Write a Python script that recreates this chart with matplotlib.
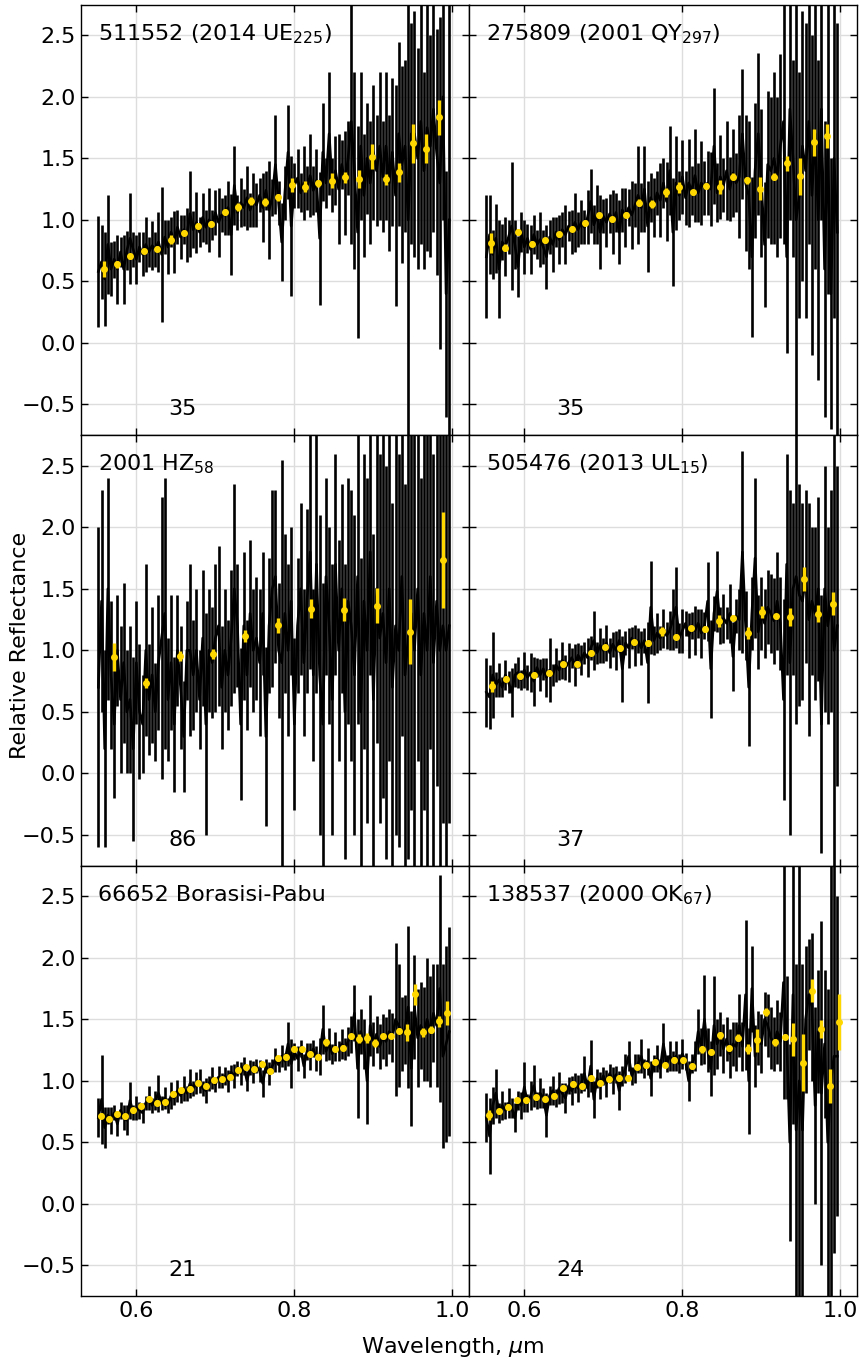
import matplotlib.pyplot as plt

# wavelength grid of the reduced spectra (um)
wave = [0.552, 0.556, 0.560, 0.564, 0.568, 0.572, 0.576, 0.580, 0.584, 0.588,
        0.592, 0.596, 0.600, 0.604, 0.608, 0.612, 0.616, 0.620, 0.624, 0.628,
        0.632, 0.636, 0.640, 0.644, 0.648, 0.652, 0.656, 0.660, 0.664, 0.668,
        0.672, 0.676, 0.680, 0.684, 0.688, 0.692, 0.696, 0.700, 0.704, 0.708,
        0.712, 0.716, 0.720, 0.724, 0.728, 0.732, 0.736, 0.740, 0.744, 0.748,
        0.752, 0.756, 0.760, 0.764, 0.768, 0.772, 0.776, 0.780, 0.784, 0.788,
        0.792, 0.796, 0.800, 0.804, 0.808, 0.812, 0.816, 0.820, 0.824, 0.828,
        0.832, 0.836, 0.840, 0.844, 0.848, 0.852, 0.856, 0.860, 0.864, 0.868,
        0.872, 0.876, 0.880, 0.884, 0.888, 0.892, 0.896, 0.900, 0.904, 0.908,
        0.912, 0.916, 0.920, 0.924, 0.928, 0.932, 0.936, 0.940, 0.944, 0.948,
        0.952, 0.956, 0.960, 0.964, 0.968, 0.972, 0.976, 0.980, 0.984, 0.988,
        0.992, 0.996]

names = ['511552 (2014 UE$_{225}$)', '275809 (2001 QY$_{297}$)',
         '2001 HZ$_{58}$', '505476 (2013 UL$_{15}$)',
         '66652 Borasisi-Pabu', '138537 (2000 OK$_{67}$)']
bin_labels = ['35', '35', '86', '37', '21', '24']

# --- 511552 ---
flux_1 = [0.58, 0.66, 0.52, 0.80, 0.60, 0.68, 0.60, 0.74, 0.60, 0.75,
          0.85, 0.76, 0.68, 0.78, 0.72, 0.80, 0.74, 0.79, 0.76, 0.82,
          0.72, 0.86, 0.78, 0.90, 0.82, 0.94, 0.86, 0.92, 0.88, 1.05,
          0.92, 0.98, 0.90, 1.02, 0.94, 1.00, 0.96, 1.06, 0.98, 1.04,
          1.04, 1.10, 0.88, 1.28, 1.06, 1.14, 1.10, 1.18, 1.08, 1.16,
          1.12, 1.20, 1.10, 1.24, 1.08, 1.18, 1.45, 1.14, 0.82, 1.22,
          1.55, 0.95, 1.28, 1.34, 1.22, 1.30, 1.26, 1.36, 1.24, 1.32,
          0.85, 1.55, 1.30, 1.70, 1.28, 1.40, 1.25, 1.45, 1.30, 1.50,
          1.80, 1.40, 0.90, 1.60, 1.20, 1.50, 1.30, 1.55, 1.40, 1.60,
          1.35, 1.60, 1.30, 1.55, 1.20, 1.70, 1.45, 1.60, 1.00, 1.70,
          1.70, 1.50, 1.80, 1.40, 1.75, 1.60, 1.90, 1.55, 1.30, 2.00,
          0.40, 1.00]
err_1 = [0.45, 0.30, 0.38, 0.40, 0.22, 0.15, 0.28, 0.12, 0.28, 0.16,
         0.37, 0.14, 0.20, 0.12, 0.18, 0.22, 0.12, 0.20, 0.14, 0.24,
         0.55, 0.14, 0.22, 0.12, 0.25, 0.14, 0.18, 0.12, 0.22, 0.35,
         0.15, 0.25, 0.12, 0.20, 0.14, 0.26, 0.12, 0.18, 0.28, 0.14,
         0.16, 0.22, 0.33, 0.32, 0.14, 0.20, 0.15, 0.26, 0.14, 0.22,
         0.18, 0.14, 0.28, 0.16, 0.40, 0.15, 0.40, 0.18, 0.32, 0.22,
         0.38, 0.57, 0.18, 0.24, 0.16, 0.30, 0.18, 0.34, 0.20, 0.26,
         0.54, 0.40, 0.20, 0.50, 0.22, 0.28, 0.45, 0.20, 0.42, 0.30,
         1.00, 0.80, 0.86, 0.60, 0.50, 0.45, 0.50, 0.55, 0.45, 0.60,
         0.45, 0.60, 0.55, 0.60, 0.90, 0.75, 0.80, 0.70, 1.80, 0.90,
         1.00, 0.90, 1.00, 0.80, 1.00, 0.90, 1.00, 1.00, 1.35, 1.00,
         1.00, 1.80]
bin_wave_1 = [0.5587, 0.5756, 0.5924, 0.6097, 0.6265, 0.6434, 0.6602, 0.6775, 0.6943,
              0.7116, 0.7284, 0.7453, 0.7625, 0.7794, 0.7966, 0.8135, 0.8303, 0.8472,
              0.8644, 0.8813, 0.8981, 0.9154, 0.9322, 0.9495, 0.9663, 0.9832]
bin_flux_1 = [0.603, 0.639, 0.704, 0.747, 0.766, 0.840, 0.894, 0.954, 0.970,
              1.062, 1.106, 1.155, 1.144, 1.182, 1.283, 1.269, 1.296, 1.318,
              1.345, 1.332, 1.514, 1.329, 1.386, 1.622, 1.579, 1.834]
bin_err_1 = [0.065, 0.028, 0.02, 0.02, 0.02, 0.04, 0.02, 0.02, 0.02,
             0.025, 0.03, 0.03, 0.035, 0.03, 0.054, 0.045, 0.03, 0.06,
             0.045, 0.07, 0.10, 0.045, 0.075, 0.16, 0.117, 0.14]

# --- 275809 ---
flux_2 = [0.70, 0.88, 0.72, 0.85, 0.60, 0.82, 0.78, 0.86, 0.95, 0.80,
          0.62, 0.90, 0.78, 0.85, 0.76, 0.88, 0.80, 0.84, 0.78, 0.70,
          0.86, 0.80, 0.90, 0.84, 0.92, 0.88, 0.95, 0.90, 0.98, 0.92,
          0.98, 0.94, 1.02, 1.15, 0.96, 1.04, 0.90, 1.03, 0.98, 1.05,
          0.98, 1.06, 0.90, 1.08, 1.02, 1.10, 1.04, 1.12, 1.20, 1.10,
          1.25, 0.95, 1.18, 1.10, 1.22, 1.16, 1.30, 1.15, 1.40, 0.90,
          1.30, 1.20, 1.35, 1.18, 1.30, 1.24, 1.36, 1.22, 1.30, 1.26,
          1.30, 1.25, 1.60, 1.22, 1.35, 1.28, 1.40, 1.25, 1.38, 1.30,
          1.35, 1.70, 1.30, 1.20, 0.70, 1.40, 1.70, 1.30, 0.80, 1.45,
          1.40, 1.50, 1.35, 1.60, 1.80, 0.70, 1.90, 1.50, 1.00, 1.20,
          1.60, 1.40, 1.80, 1.20, 1.70, 1.00, 1.90, 0.60, 1.60, 0.40,
          1.50, 0.90]
err_2 = [0.50, 0.32, 0.20, 0.28, 0.40, 0.15, 0.24, 0.14, 0.52, 0.20,
         0.25, 0.16, 0.22, 0.12, 0.20, 0.16, 0.12, 0.22, 0.14, 0.26,
         0.14, 0.22, 0.12, 0.20, 0.14, 0.24, 0.12, 0.18, 0.24, 0.14,
         0.18, 0.14, 0.22, 0.26, 0.16, 0.24, 0.30, 0.14, 0.20, 0.16,
         0.26, 0.16, 0.26, 0.18, 0.24, 0.15, 0.28, 0.18, 0.40, 0.20,
         0.35, 0.37, 0.20, 0.24, 0.18, 0.30, 0.20, 0.32, 0.36, 0.44,
         0.38, 0.20, 0.30, 0.22, 0.36, 0.20, 0.38, 0.24, 0.34, 0.22,
         0.26, 0.30, 0.47, 0.24, 0.34, 0.22, 0.40, 0.26, 0.36, 0.24,
         0.50, 0.53, 0.55, 0.60, 0.65, 0.55, 0.66, 0.60, 0.51, 0.60,
         0.60, 0.70, 0.65, 0.75, 1.00, 0.78, 0.90, 0.80, 1.80, 1.00,
         1.10, 1.20, 1.00, 1.30, 1.10, 1.30, 0.90, 1.20, 1.20, 1.10,
         1.30, 1.70]
bin_wave_2 = [0.5579, 0.5752, 0.5920, 0.6093, 0.6261, 0.6434, 0.6602, 0.6771, 0.6943,
              0.7112, 0.7284, 0.7453, 0.7621, 0.7794, 0.7962, 0.8135, 0.8303, 0.8472,
              0.8644, 0.8813, 0.8985, 0.9154, 0.9322, 0.9495, 0.9663, 0.9832]
bin_flux_2 = [0.813, 0.774, 0.902, 0.807, 0.834, 0.883, 0.927, 0.978, 1.038,
              1.005, 1.043, 1.139, 1.128, 1.223, 1.264, 1.226, 1.277, 1.269,
              1.351, 1.321, 1.255, 1.351, 1.459, 1.356, 1.630, 1.682]
bin_err_2 = [0.079, 0.03, 0.02, 0.02, 0.02, 0.02, 0.02, 0.02, 0.02,
             0.02, 0.02, 0.03, 0.03, 0.035, 0.048, 0.02, 0.025, 0.055,
             0.03, 0.03, 0.092, 0.03, 0.06, 0.15, 0.109, 0.10]

# --- 2001 HZ58 ---
flux_3 = [0.70, 1.40, 0.20, 1.50, 0.80, 0.40, 1.00, 0.60, 0.90, 0.50,
          0.60, 0.20, 0.90, 0.50, 0.40, 1.00, 0.60, 0.80, 0.50, 0.90,
          1.10, 1.30, 0.60, 0.90, 0.40, 1.00, 0.70, 0.30, 1.00, 1.00,
          0.80, 1.00, 0.60, 1.10, 0.40, 1.00, 0.90, 1.10, 1.20, 0.70,
          1.00, 0.80, 1.10, 1.50, 1.20, 0.40, 1.20, 0.80, 1.30, 1.00,
          1.10, 0.90, 1.30, 0.30, 1.20, 1.50, 1.60, 1.00, 0.90, 1.30,
          1.00, 1.40, 0.40, 1.20, 1.50, 0.90, 1.40, 1.80, 0.80, 1.70,
          0.80, 0.40, 1.60, 1.20, 0.60, 1.70, 1.00, 1.50, 0.50, 1.40,
          1.20, 0.80, 1.60, 0.50, 1.40, 1.00, 1.80, 0.60, 1.50, 1.10,
          1.30, 0.90, 1.50, 0.70, 1.20, 1.00, 1.60, 0.80, 1.10, 1.30,
          1.00, 1.50, 0.80, 1.30, 1.00, 1.60, 0.90, 1.40, 1.00, 1.20,
          1.00, 1.20]
err_3 = [1.30, 0.90, 0.80, 0.90, 0.60, 0.60, 0.45, 0.60, 0.65, 0.50,
         0.60, 0.75, 0.50, 0.55, 0.40, 0.70, 0.45, 0.55, 0.40, 0.55,
         1.15, 1.10, 0.50, 0.55, 0.55, 0.45, 0.50, 0.45, 0.40, 0.70,
         0.45, 0.50, 0.40, 0.55, 0.90, 0.50, 0.45, 0.60, 0.65, 0.50,
         0.50, 0.45, 0.55, 0.85, 0.50, 0.62, 0.60, 0.45, 0.60, 0.50,
         0.50, 0.60, 0.50, 0.73, 0.55, 0.80, 0.70, 0.55, 1.65, 0.65,
         0.70, 0.60, 0.70, 0.55, 0.70, 0.60, 0.75, 0.95, 0.70, 1.05,
         1.30, 1.15, 0.80, 0.80, 1.10, 0.90, 0.90, 0.85, 1.20, 1.00,
         1.10, 1.30, 1.20, 1.25, 1.20, 1.40, 1.00, 1.35, 1.25, 1.50,
         1.50, 1.60, 1.40, 1.50, 1.70, 1.60, 1.30, 1.55, 1.80, 1.60,
         1.80, 1.40, 1.60, 1.60, 1.80, 1.40, 1.70, 1.50, 1.80, 1.60,
         1.80, 1.60]
bin_wave_3 = [0.5714, 0.6126, 0.6547, 0.6964, 0.7381, 0.7798, 0.8215, 0.8632,
              0.9048, 0.9469, 0.9886]
bin_flux_3 = [0.946, 0.736, 0.954, 0.967, 1.117, 1.204, 1.340, 1.332,
              1.364, 1.152, 1.734]
bin_err_3 = [0.115, 0.04, 0.04, 0.04, 0.05, 0.06, 0.075, 0.095,
             0.145, 0.265, 0.39]

# --- 505476 ---
flux_4 = [0.66, 0.62, 0.80, 0.72, 0.76, 0.70, 0.80, 0.74, 0.66, 0.80,
          0.82, 0.76, 0.84, 0.78, 0.82, 0.75, 0.86, 0.80, 0.85, 0.78,
          0.84, 0.80, 0.88, 0.84, 0.92, 0.86, 0.90, 0.94, 0.88, 0.96,
          0.92, 0.98, 0.94, 1.02, 1.08, 0.98, 1.04, 1.00, 1.06, 0.98,
          1.05, 1.00, 1.08, 0.85, 1.06, 1.02, 1.10, 1.04, 1.08, 1.02,
          1.08, 0.90, 1.35, 1.08, 1.14, 1.10, 1.18, 1.12, 1.16, 1.25,
          1.35, 1.10, 1.16, 1.22, 1.12, 1.20, 1.16, 1.22, 1.14, 1.20,
          1.40, 0.85, 1.30, 1.48, 1.20, 1.26, 1.22, 1.30, 0.95, 1.28,
          1.25, 1.80, 1.20, 0.70, 1.30, 1.75, 1.15, 1.30, 1.22, 1.35,
          1.30, 1.24, 1.40, 1.22, 0.60, 1.70, 0.90, 1.50, 1.60, 1.45,
          1.40, 1.60, 1.25, 1.40, 1.30, 1.50, 0.40, 1.50, 1.20, 1.40,
          1.00, 1.20]
err_4 = [0.28, 0.26, 0.35, 0.10, 0.14, 0.08, 0.12, 0.09, 0.20, 0.10,
         0.13, 0.08, 0.15, 0.10, 0.16, 0.20, 0.08, 0.13, 0.09, 0.16,
         0.26, 0.09, 0.14, 0.08, 0.15, 0.10, 0.16, 0.08, 0.17, 0.10,
         0.12, 0.09, 0.16, 0.10, 0.24, 0.09, 0.14, 0.10, 0.15, 0.12,
         0.10, 0.16, 0.09, 0.27, 0.10, 0.16, 0.09, 0.17, 0.10, 0.14,
         0.10, 0.33, 0.38, 0.12, 0.16, 0.10, 0.16, 0.11, 0.16, 0.25,
         0.33, 0.12, 0.18, 0.10, 0.18, 0.11, 0.20, 0.12, 0.20, 0.11,
         0.32, 0.40, 0.14, 0.33, 0.15, 0.20, 0.13, 0.24, 0.28, 0.14,
         0.25, 0.82, 0.28, 0.48, 0.30, 0.65, 0.30, 0.30, 0.28, 0.30,
         0.32, 0.35, 0.40, 0.38, 0.82, 0.90, 1.40, 0.70, 1.20, 0.90,
         0.80, 0.70, 0.95, 0.60, 0.70, 0.75, 1.05, 1.00, 0.80, 0.90,
         1.75, 1.30]
bin_wave_4 = [0.5587, 0.5768, 0.5949, 0.6126, 0.6307, 0.6488, 0.6665, 0.6846, 0.7027,
              0.7208, 0.7385, 0.7566, 0.7747, 0.7924, 0.8105, 0.8286, 0.8463, 0.8644,
              0.8825, 0.9002, 0.9183, 0.9360, 0.9541, 0.9722, 0.9903]
bin_flux_4 = [0.707, 0.769, 0.788, 0.802, 0.818, 0.886, 0.891, 0.981, 1.027,
              1.016, 1.065, 1.057, 1.155, 1.111, 1.182, 1.171, 1.239, 1.266,
              1.141, 1.310, 1.277, 1.272, 1.579, 1.299, 1.380]
bin_err_4 = [0.045, 0.02, 0.02, 0.02, 0.02, 0.02, 0.02, 0.02, 0.02,
             0.02, 0.02, 0.02, 0.035, 0.02, 0.02, 0.025, 0.048, 0.02,
             0.045, 0.05, 0.02, 0.07, 0.095, 0.07, 0.092]

# --- 66652 ---
flux_5 = [0.70, 0.85, 0.62, 0.72, 0.68, 0.74, 0.65, 0.76, 0.70, 0.68,
          0.84, 0.74, 0.78, 0.76, 0.74, 0.82, 0.86, 0.80, 0.84, 0.90,
          0.82, 0.86, 0.80, 0.88, 0.86, 0.92, 0.88, 0.94, 0.90, 0.98,
          0.94, 0.98, 1.00, 0.94, 0.92, 0.98, 1.02, 0.97, 1.03, 1.00,
          1.04, 1.00, 1.07, 1.04, 1.10, 1.06, 1.12, 1.00, 1.11, 1.07,
          1.12, 1.08, 0.98, 1.12, 1.06, 1.12, 1.17, 1.13, 1.20, 1.16,
          1.30, 1.14, 1.24, 1.18, 1.26, 1.12, 1.24, 1.20, 1.26, 1.18,
          1.20, 1.42, 1.24, 1.30, 1.22, 1.28, 1.24, 1.30, 1.26, 1.32,
          1.38, 1.55, 1.10, 1.40, 1.30, 1.00, 1.45, 1.30, 1.38, 1.28,
          1.36, 1.32, 1.40, 1.35, 1.50, 1.45, 1.38, 1.42, 1.60, 1.10,
          1.60, 1.35, 1.45, 1.38, 1.50, 1.40, 1.55, 1.45, 1.75, 1.20,
          1.30, 1.40]
err_5 = [0.16, 0.36, 0.17, 0.07, 0.11, 0.06, 0.10, 0.07, 0.10, 0.12,
         0.15, 0.06, 0.10, 0.07, 0.08, 0.06, 0.10, 0.06, 0.08, 0.15,
         0.06, 0.09, 0.06, 0.11, 0.06, 0.09, 0.06, 0.10, 0.06, 0.12,
         0.06, 0.09, 0.10, 0.06, 0.10, 0.06, 0.09, 0.06, 0.09, 0.06,
         0.07, 0.09, 0.06, 0.10, 0.06, 0.09, 0.07, 0.08, 0.06, 0.09,
         0.06, 0.09, 0.11, 0.06, 0.09, 0.06, 0.10, 0.06, 0.09, 0.07,
         0.18, 0.20, 0.07, 0.10, 0.07, 0.10, 0.07, 0.11, 0.07, 0.10,
         0.15, 0.20, 0.08, 0.13, 0.08, 0.12, 0.08, 0.12, 0.09, 0.12,
         0.15, 0.23, 0.40, 0.18, 0.20, 0.35, 0.25, 0.18, 0.15, 0.18,
         0.18, 0.20, 0.18, 0.20, 0.62, 0.50, 0.30, 0.28, 0.66, 0.47,
         0.42, 0.40, 0.35, 0.38, 0.50, 0.45, 0.40, 0.50, 0.92, 0.75,
         0.80, 0.85]
bin_wave_5 = [0.5554, 0.5655, 0.5756, 0.5857, 0.5958, 0.6063, 0.6164, 0.6265, 0.6366,
              0.6467, 0.6568, 0.6674, 0.6775, 0.6876, 0.6977, 0.7082, 0.7183, 0.7284,
              0.7385, 0.7486, 0.7592, 0.7693, 0.7794, 0.7895, 0.7996, 0.8101, 0.8202,
              0.8303, 0.8404, 0.8509, 0.8611, 0.8712, 0.8813, 0.8914, 0.9019, 0.9120,
              0.9221, 0.9322, 0.9427, 0.9528, 0.9629, 0.9730, 0.9832, 0.9937]
bin_flux_5 = [0.715, 0.691, 0.734, 0.713, 0.762, 0.797, 0.854, 0.821, 0.824,
              0.894, 0.924, 0.935, 0.986, 0.959, 1.003, 1.011, 1.033, 1.089,
              1.111, 1.095, 1.133, 1.079, 1.184, 1.195, 1.260, 1.255, 1.220,
              1.195, 1.314, 1.260, 1.268, 1.363, 1.344, 1.350, 1.309, 1.363,
              1.366, 1.407, 1.393, 1.702, 1.393, 1.417, 1.485, 1.553]
bin_err_5 = [0.02, 0.02, 0.02, 0.02, 0.02, 0.02, 0.02, 0.02, 0.02,
             0.02, 0.02, 0.02, 0.02, 0.02, 0.02, 0.02, 0.02, 0.02,
             0.02, 0.02, 0.02, 0.02, 0.02, 0.02, 0.02, 0.02, 0.02,
             0.02, 0.03, 0.02, 0.02, 0.02, 0.04, 0.04, 0.03, 0.02,
             0.02, 0.02, 0.07, 0.085, 0.04, 0.03, 0.045, 0.10]

# --- 138537 ---
flux_6 = [0.70, 0.55, 0.80, 0.90, 0.74, 0.80, 0.76, 0.82, 0.78, 0.70,
          0.84, 0.80, 0.95, 0.82, 0.88, 0.96, 0.84, 0.90, 0.86, 0.72,
          0.88, 0.92, 0.86, 0.94, 0.90, 0.86, 0.96, 0.92, 0.98, 0.94,
          0.98, 1.06, 0.94, 1.12, 0.85, 1.02, 0.96, 1.04, 0.98, 1.06,
          1.00, 1.05, 0.92, 1.04, 1.10, 1.20, 1.04, 1.10, 1.14, 1.20,
          1.10, 1.16, 1.02, 1.14, 1.18, 1.10, 1.30, 1.14, 1.20, 1.16,
          1.20, 1.14, 1.22, 1.16, 1.00, 1.14, 1.20, 1.40, 1.28, 1.50,
          1.25, 1.10, 1.45, 1.30, 1.38, 1.26, 1.34, 1.22, 1.30, 1.28,
          1.45, 1.28, 1.70, 1.00, 1.75, 1.20, 1.35, 1.30, 1.50, 1.45,
          1.35, 1.30, 1.40, 1.32, 1.80, 1.35, 0.50, 1.70, 0.60, 1.00,
          0.60, 1.50, 1.70, 1.60, 0.80, 1.40, 0.90, 1.30, 0.50, 1.00,
          1.20, 1.20]
err_6 = [0.20, 0.31, 0.15, 0.20, 0.08, 0.12, 0.07, 0.12, 0.08, 0.12,
         0.08, 0.11, 0.20, 0.07, 0.12, 0.17, 0.07, 0.12, 0.08, 0.18,
         0.08, 0.12, 0.07, 0.13, 0.08, 0.12, 0.07, 0.12, 0.08, 0.11,
         0.08, 0.14, 0.07, 0.21, 0.15, 0.08, 0.11, 0.07, 0.11, 0.08,
         0.11, 0.07, 0.16, 0.08, 0.12, 0.12, 0.07, 0.12, 0.08, 0.14,
         0.08, 0.11, 0.14, 0.07, 0.11, 0.08, 0.17, 0.07, 0.12, 0.08,
         0.12, 0.08, 0.12, 0.07, 0.16, 0.08, 0.12, 0.18, 0.15, 0.36,
         0.18, 0.22, 0.40, 0.20, 0.18, 0.20, 0.18, 0.20, 0.18, 0.20,
         0.26, 0.20, 0.61, 0.43, 0.35, 0.25, 0.22, 0.24, 0.22, 0.26,
         0.25, 0.22, 0.26, 0.24, 0.95, 0.50, 0.80, 1.05, 1.35, 1.75,
         1.35, 0.60, 0.45, 0.60, 0.80, 0.50, 1.40, 0.60, 1.25, 1.75,
         1.60, 1.30]
bin_wave_6 = [0.5558, 0.5676, 0.5794, 0.5912, 0.6025, 0.6143, 0.6261, 0.6379, 0.6493,
              0.6611, 0.6728, 0.6842, 0.6960, 0.7078, 0.7192, 0.7309, 0.7427, 0.7541,
              0.7659, 0.7777, 0.7891, 0.8008, 0.8126, 0.8244, 0.8358, 0.8476, 0.8594,
              0.8707, 0.8825, 0.8943, 0.9057, 0.9175, 0.9293, 0.9406, 0.9524, 0.9642,
              0.9756, 0.9874, 0.9987]
bin_flux_6 = [0.721, 0.753, 0.789, 0.843, 0.843, 0.867, 0.856, 0.878, 0.943,
              0.978, 0.954, 1.019, 0.984, 1.011, 1.027, 1.024, 1.114, 1.125,
              1.154, 1.130, 1.173, 1.168, 1.119, 1.255, 1.236, 1.371, 1.266,
              1.352, 1.257, 1.328, 1.561, 1.314, 1.358, 1.339, 1.149, 1.734,
              1.423, 0.957, 1.480]
bin_err_6 = [0.04, 0.02, 0.02, 0.02, 0.02, 0.02, 0.02, 0.02, 0.02,
             0.02, 0.02, 0.02, 0.02, 0.02, 0.02, 0.02, 0.02, 0.02,
             0.02, 0.02, 0.02, 0.02, 0.02, 0.03, 0.02, 0.03, 0.02,
             0.03, 0.04, 0.09, 0.03, 0.03, 0.02, 0.135, 0.235, 0.09,
             0.075, 0.14, 0.23]

spectra = [(flux_1, err_1, bin_wave_1, bin_flux_1, bin_err_1),
           (flux_2, err_2, bin_wave_2, bin_flux_2, bin_err_2),
           (flux_3, err_3, bin_wave_3, bin_flux_3, bin_err_3),
           (flux_4, err_4, bin_wave_4, bin_flux_4, bin_err_4),
           (flux_5, err_5, bin_wave_5, bin_flux_5, bin_err_5),
           (flux_6, err_6, bin_wave_6, bin_flux_6, bin_err_6)]

fs = 16

fig, axes = plt.subplots(3, 2, sharex=True, sharey=True, figsize=(8.6, 13.65), dpi=100)
fig.subplots_adjust(left=0.0942, right=0.9965, top=0.9966, bottom=0.0505,
                    wspace=0, hspace=0)

for ax, name, lab, (fl, er, bw, bf, be) in zip(axes.flat, names, bin_labels, spectra):
    ax.errorbar(wave, fl, yerr=er, color='k', lw=1.9, elinewidth=1.9, zorder=2)
    ax.errorbar(bw, bf, yerr=be, fmt='o', color='gold', ms=4, elinewidth=2.4,
                capsize=0, zorder=3)
    ax.text(0.551, 2.46, name, fontsize=fs, ha='left', va='baseline')
    ax.text(0.6586, -0.54, lab, fontsize=fs, ha='center', va='center')
    ax.set_axisbelow(True)
    ax.grid(True, color='#dddddd', lw=1.0)
    ax.tick_params(direction='in', top=True, right=True, length=5, width=1,
                   labelsize=fs)
    for sp in ax.spines.values():
        sp.set_linewidth(1.0)

axes[0, 0].set_xlim(0.53, 1.021)
axes[0, 0].set_ylim(-0.75, 2.75)
axes[0, 0].set_xticks([0.6, 0.8, 1.0])
axes[0, 0].set_yticks([-0.5, 0.0, 0.5, 1.0, 1.5, 2.0, 2.5])

fig.text(0.527, 0.0132, 'Wavelength, $\\mu$m', fontsize=fs, ha='center', va='center')
fig.text(0.0233, 0.527, 'Relative Reflectance', fontsize=fs, ha='center',
         va='center', rotation=90)

fig.savefig('out.png', dpi=100)
